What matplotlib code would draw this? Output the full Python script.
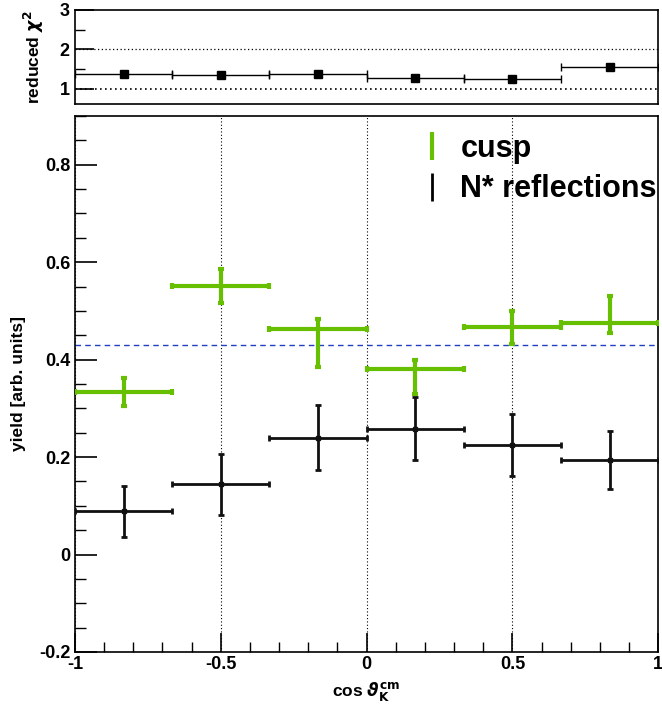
import numpy as np
import matplotlib
matplotlib.use("Agg")
import matplotlib.pyplot as plt
from matplotlib.lines import Line2D
from matplotlib.ticker import MultipleLocator

plt.rcParams["font.family"] = ["Liberation Sans", "DejaVu Sans"]
plt.rcParams["font.weight"] = "bold"
plt.rcParams["mathtext.fontset"] = "dejavusans"

# bins in cos theta_K^cm
bin_edges = [-1.0, -2 / 3, -1 / 3, 0.0, 1 / 3, 2 / 3, 1.0]

# reduced chi2 per bin
chi2 = [1.38, 1.34, 1.38, 1.27, 1.24, 1.55]

# cusp yields (asymmetric errors)
cusp = [0.333, 0.551, 0.462, 0.380, 0.466, 0.476]
cusp_lo = [0.028, 0.034, 0.078, 0.050, 0.033, 0.022]
cusp_hi = [0.029, 0.036, 0.022, 0.020, 0.034, 0.055]

# N* reflection yields
nstar = [0.089, 0.144, 0.240, 0.258, 0.225, 0.194]
nstar_err = [0.052, 0.063, 0.066, 0.065, 0.064, 0.059]

mean_cusp = 0.431

edges = np.array(bin_edges)
centers = 0.5 * (edges[:-1] + edges[1:])
half = 0.5 * np.diff(edges)

green = "#66bf00"

fig = plt.figure(figsize=(6.62, 7.09), dpi=100)
ax_top = fig.add_axes([0.1133, 0.853, 0.881, 0.133])
ax = fig.add_axes([0.1133, 0.0804, 0.881, 0.756])

# --- top panel: reduced chi2
ax_top.errorbar(centers, chi2, xerr=half, fmt="s", color="black", ms=6,
                elinewidth=1.0, capsize=3, capthick=1.0)
ax_top.axhline(1, color="black", ls=(0, (1, 2)), lw=1.2)
ax_top.axhline(2, color="black", ls=(0, (1, 2)), lw=0.9)
ax_top.set_xlim(-1, 1)
ax_top.set_ylim(0.6, 3.0)
ax_top.set_yticks([1, 2, 3])
ax_top.yaxis.set_minor_locator(MultipleLocator(0.5))
ax_top.set_xticks([])
ax_top.tick_params(axis="y", which="major", direction="in", length=14, width=1.2, labelsize=13, pad=4)
ax_top.tick_params(axis="y", which="minor", direction="in", length=7, width=1)
ax_top.set_ylabel(r"reduced $\chi^2$", fontsize=12.5, fontweight="bold", labelpad=10)
for s in ax_top.spines.values():
    s.set_linewidth(1.2)

# --- main panel: yields
for x in [-1, -0.5, 0, 0.5, 1]:
    ax.axvline(x, color="black", ls=(0, (1, 2)), lw=0.8, zorder=0)
ax.axhline(mean_cusp, color="#2040c0", ls=(0, (4, 3)), lw=1.0, zorder=1)

ax.errorbar(centers, cusp, xerr=half, yerr=[cusp_lo, cusp_hi], fmt="none",
            ecolor=green, elinewidth=3, capsize=2, capthick=3, zorder=3)
ax.errorbar(centers, nstar, xerr=half, yerr=nstar_err, fmt="s", color="#111111",
            ms=3, elinewidth=2, capsize=2.5, capthick=2, zorder=3)

ax.set_xlim(-1, 1)
ax.set_ylim(-0.2, 0.9)
ax.set_xticks([-1, -0.5, 0, 0.5, 1])
ax.set_xticklabels(["-1", "-0.5", "0", "0.5", "1"])
ax.xaxis.set_minor_locator(MultipleLocator(0.1))
ax.set_yticks([-0.2, 0, 0.2, 0.4, 0.6, 0.8])
ax.set_yticklabels(["-0.2", "0", "0.2", "0.4", "0.6", "0.8"])
ax.yaxis.set_minor_locator(MultipleLocator(0.05))
ax.tick_params(which="major", direction="in", length=16, width=1.2, labelsize=13, pad=3)
ax.tick_params(which="minor", direction="in", length=8, width=1)
ax.tick_params(axis="x", which="major", length=14)
ax.tick_params(axis="x", which="minor", length=7)
for s in ax.spines.values():
    s.set_linewidth(1.2)

ax.set_ylabel("yield [arb. units]", fontsize=12.5, fontweight="bold", labelpad=10)
ax.set_xlabel(r"cos $\vartheta_{\mathrm{K}}^{\mathbf{cm}}$", fontsize=12.5, fontweight="bold", labelpad=5)

handles = [
    Line2D([], [], color=green, marker="|", ms=20, mew=3, ls="none"),
    Line2D([], [], color="black", marker="|", ms=20, mew=2, ls="none"),
]
ax.legend(handles, ["cusp", "N* reflections"], loc="upper left",
          bbox_to_anchor=(0.5705, 0.99), frameon=False,
          prop={"size": 22, "weight": "bold"}, handlelength=0.8,
          handletextpad=0.52, labelspacing=0.35, borderaxespad=0)

fig.savefig("out.png", dpi=100)
